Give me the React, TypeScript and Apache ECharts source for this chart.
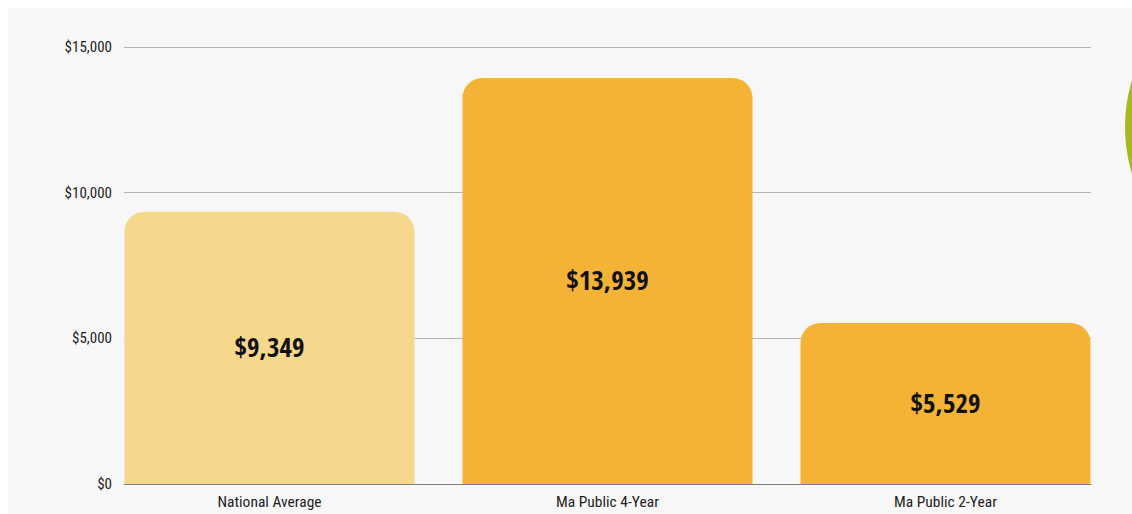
import React, { useEffect, useRef } from "react";
import * as echarts from "echarts";

const categories = ["National Average", "Ma Public 4-Year", "Ma Public 2-Year"];
const values = [9349, 13939, 5529];
const barColors = ["#f5d88c", "#f5b335", "#f5b335"];
const yTicks = [0, 5000, 10000, 15000];

const FONT = "'Roboto Condensed', 'DejaVu Sans Condensed', sans-serif";
const BOLD_FONT = "'Open Sans Condensed', 'Roboto Condensed', sans-serif";

const fmt = (v: number) => "$" + v.toLocaleString("en-US");

export default function App() {
  const ref = useRef<HTMLDivElement>(null);
  useEffect(() => {
    const chart = echarts.init(ref.current!, null, { renderer: "svg" });
    chart.setOption({
      animation: false,
      backgroundColor: "#f7f7f7",
      grid: [
        { left: 116, right: 41, top: 39, bottom: 30 },
        { left: 92.5, right: 17.5, top: 39, bottom: 30 },
      ],
      xAxis: [
        {
          gridIndex: 0,
          type: "value",
          min: 0,
          max: 1,
          z: 10,
          axisLine: { show: true, onZero: false, lineStyle: { color: "rgba(0,0,0,0.3)", width: 1 } },
          axisTick: { show: false },
          axisLabel: { show: false },
          splitLine: { show: false },
        },
        {
          gridIndex: 1,
          type: "category",
          data: categories,
          axisLine: { show: false },
          axisTick: { show: false },
          axisLabel: { color: "#1e1e1e", fontSize: 15.5, fontFamily: FONT, margin: 10 },
        },
      ],
      yAxis: [
        {
          gridIndex: 0,
          type: "value",
          min: 0,
          max: 15000,
          interval: 5000,
          axisLine: { show: false },
          axisTick: { show: false },
          axisLabel: {
            color: "#1e1e1e",
            fontSize: 15,
            fontFamily: FONT,
            margin: 12,
            formatter: (v: number) => (yTicks.includes(v) ? fmt(v) : ""),
          },
          splitLine: { lineStyle: { color: "#b5b5b5", width: 1 } },
        },
        {
          gridIndex: 1,
          type: "value",
          min: 0,
          max: 15000,
          show: false,
          splitLine: { show: false },
        },
      ],
      series: [
        {
          type: "bar",
          xAxisIndex: 1,
          yAxisIndex: 1,
          barWidth: 290,
          data: values.map((v, i) => ({
            value: v,
            itemStyle: { color: barColors[i], borderRadius: [20, 20, 0, 0] },
          })),
          label: {
            show: true,
            position: "inside",
            offset: [0, -1],
            formatter: (p: any) => fmt(p.value),
            color: "#111",
            fontSize: 27,
            fontWeight: "bold",
            fontFamily: BOLD_FONT,
          },
        },
      ],
      graphic: [
        {
          type: "circle",
          shape: { cx: 1278, cy: 119, r: 161 },
          style: { fill: "#a9b820" },
          z: 100,
        },
      ],
    });
    return () => chart.dispose();
  }, []);
  return (
    <div
      ref={ref}
      style={{ position: "fixed", left: 8, top: 8, width: 1124, height: 506 }}
    />
  );
}
